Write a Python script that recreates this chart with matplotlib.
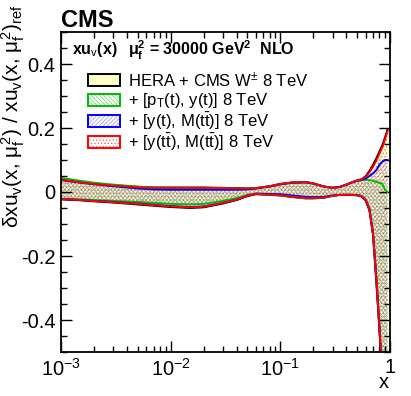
"""
Relative uncertainty of the xu_v PDF at mu_f^2 = 30000 GeV^2 (NLO) - CMS style band plot
"""

import matplotlib
matplotlib.use('Agg')
import matplotlib.pyplot as plt
from matplotlib.patches import Rectangle
from matplotlib.ticker import FixedLocator, NullFormatter

plt.rcParams['font.family'] = ['Liberation Sans', 'DejaVu Sans']
plt.rcParams['mathtext.fontset'] = 'custom'
plt.rcParams['mathtext.rm'] = 'Liberation Sans'
plt.rcParams['mathtext.it'] = 'Liberation Sans'
plt.rcParams['mathtext.bf'] = 'Liberation Sans:bold'
plt.rcParams['hatch.linewidth'] = 0.6

# x grid
x = [1e-3, 1.5e-3, 2e-3, 3e-3, 5e-3, 7e-3, 1e-2, 1.5e-2, 2e-2, 3e-2, 4e-2, 5e-2, 6e-2, 8e-2,
     0.1, 0.13, 0.17, 0.2, 0.25, 0.3, 0.35, 0.4, 0.45, 0.5, 0.55, 0.6, 0.65, 0.7, 0.75, 0.8,
     0.85, 0.9, 0.95]

# HERA + CMS W 8 TeV
hera_up = [0.039, 0.031, 0.026, 0.021, 0.016, 0.014, 0.014, 0.014, 0.014, 0.013, 0.012, 0.011,
           0.012, 0.018, 0.025, 0.030, 0.031, 0.027, 0.017, 0.013, 0.016, 0.023, 0.030, 0.036,
           0.040, 0.049, 0.066, 0.085, 0.105, 0.126, 0.146, 0.170, 0.195]
hera_lo = [-0.023, -0.026, -0.029, -0.033, -0.039, -0.043, -0.047, -0.050, -0.048, -0.036,
           -0.025, -0.013, -0.007, -0.009, -0.011, -0.016, -0.020, -0.020, -0.018, -0.012,
           -0.009, -0.009, -0.009, -0.010, -0.014, -0.027, -0.058, -0.135, -0.28, -0.43,
           -0.59, -0.76, -0.92]

# + [pT(t), y(t)] 8 TeV
ptyt_up = [0.044, 0.035, 0.029, 0.023, 0.017, 0.014, 0.013, 0.013, 0.013, 0.012, 0.011, 0.011,
           0.012, 0.018, 0.025, 0.030, 0.031, 0.027, 0.017, 0.013, 0.016, 0.023, 0.030, 0.035,
           0.038, 0.039, 0.037, 0.035, 0.032, 0.029, 0.026, 0.007, 0.0]
ptyt_lo = [-0.021, -0.023, -0.025, -0.028, -0.031, -0.034, -0.037, -0.039, -0.037, -0.028,
           -0.019, -0.009, -0.005, -0.008, -0.010, -0.015, -0.019, -0.019, -0.017, -0.012,
           -0.009, -0.009, -0.009, -0.010, -0.012, -0.023, -0.052, -0.125, -0.26, -0.41,
           -0.57, -0.74, -0.89]

# + [y(t), M(tt)] 8 TeV
ymtt_up = [0.037, 0.029, 0.024, 0.018, 0.011, 0.008, 0.007, 0.007, 0.007, 0.007, 0.007, 0.008,
           0.011, 0.017, 0.024, 0.029, 0.030, 0.026, 0.017, 0.013, 0.016, 0.023, 0.030, 0.035,
           0.037, 0.042, 0.050, 0.058, 0.068, 0.085, 0.095, 0.100, 0.100]
ymtt_lo = [-0.022, -0.025, -0.028, -0.031, -0.036, -0.040, -0.044, -0.047, -0.045, -0.034,
           -0.024, -0.012, -0.005, -0.006, -0.007, -0.011, -0.015, -0.016, -0.015, -0.011,
           -0.009, -0.009, -0.009, -0.010, -0.013, -0.025, -0.055, -0.13, -0.27, -0.42,
           -0.58, -0.75, -0.90]

# + [y(tt), M(tt)] 8 TeV
yttm_up = [0.038, 0.030, 0.025, 0.020, 0.015, 0.013, 0.013, 0.013, 0.013, 0.012, 0.011, 0.011,
           0.012, 0.018, 0.025, 0.030, 0.031, 0.027, 0.017, 0.013, 0.016, 0.023, 0.030, 0.036,
           0.039, 0.047, 0.062, 0.079, 0.098, 0.120, 0.140, 0.165, 0.190]
yttm_lo = [-0.022, -0.025, -0.028, -0.032, -0.037, -0.041, -0.045, -0.048, -0.046, -0.034,
           -0.024, -0.012, -0.006, -0.008, -0.010, -0.015, -0.019, -0.019, -0.017, -0.012,
           -0.009, -0.009, -0.009, -0.010, -0.013, -0.025, -0.055, -0.13, -0.27, -0.42,
           -0.58, -0.75, -0.90]

labels = [r'HERA + CMS W$^{\pm}$ 8 TeV',
          r'+ [p$_{\rm T}$(t), y(t)] 8 TeV',
          r'+ [y(t), M(t$\bar{\rm t}$)] 8 TeV',
          r'+ [y(t$\bar{\rm t}$), M(t$\bar{\rm t}$)] 8 TeV']

xticks = [1e-3, 1e-2, 1e-1, 1]
xtick_labels = [r'$10^{-3}$', r'$10^{-2}$', r'$10^{-1}$', '1']
yticks = [-0.4, -0.2, 0, 0.2, 0.4]
ytick_labels = ['-0.4', '-0.2', '0', '0.2', '0.4']

fig = plt.figure(figsize=(4.11, 3.96), dpi=100)
ax = fig.add_axes([61 / 411, 1 - 352 / 396, 329 / 411, 320 / 396])

# band styles: fill colour, hatch colour, hatch pattern, outline colour
fills = ['#ffffcc', 'none', 'none', 'none']
hatch_colors = [None, (0.25, 0.8, 0.25, 0.7), (0.5, 0.5, 0.95, 0.7), (1.0, 0.3, 0.3, 0.8)]
hatches = [None, '\\' * 8, '/' * 8, '.' * 5]
line_colors = ['black', '#00bb00', '#0000ff', '#ff0000']
bands = [(hera_up, hera_lo), (ptyt_up, ptyt_lo), (ymtt_up, ymtt_lo), (yttm_up, yttm_lo)]

for (up, lo), fc, hc, h in zip(bands, fills, hatch_colors, hatches):
    ax.fill_between(x, lo, up, facecolor=fc, edgecolor=hc if hc else 'none', hatch=h, linewidth=0)
for (up, lo), c in zip(bands, line_colors):
    ax.plot(x, up, color=c, lw=1.4)
    ax.plot(x, lo, color=c, lw=1.4)

ax.set_xscale('log')
ax.set_xlim(1e-3, 1)
ax.set_ylim(-0.5, 0.5)

ax.set_xticks(xticks)
ax.set_xticklabels(xtick_labels)
ax.xaxis.set_minor_locator(FixedLocator([m * 10.0 ** e for e in (-3, -2, -1) for m in range(2, 10)]))
ax.xaxis.set_minor_formatter(NullFormatter())
ax.set_yticks(yticks)
ax.set_yticklabels(ytick_labels)
ax.yaxis.set_minor_locator(FixedLocator([i * 0.05 for i in range(-10, 11)]))

ax.tick_params(which='both', direction='in', top=True, right=True, labelsize=14.5, width=1.0)
ax.tick_params(which='major', length=8, pad=4)
ax.tick_params(which='minor', length=4)
for sp in ax.spines.values():
    sp.set_linewidth(1.3)

# axis titles placed like the ROOT layout
fig.text(384 / 411, 1 - 383 / 396, 'x', fontsize=14.5, ha='center', va='center')
fig.text(13 / 411, 1 - 4 / 396,
         r'$\delta$xu$_{\rm v}$(x, $\mu_{\rm f}^{2}$) / xu$_{\rm v}$(x, $\mu_{\rm f}^{2}$)$_{\rm ref}$',
         fontsize=15, rotation=90, ha='center', va='top')

# header texts
fig.text(61 / 411, 1 - 27 / 396, 'CMS', fontsize=17, fontweight='bold', ha='left', va='baseline')
ax.text(0.033, 0.944, r'xu$_{\rm v}$(x)', transform=ax.transAxes, fontsize=11.5,
        fontweight='bold', va='center')
ax.text(0.204, 0.944, r'$\mathbf{\mu}_{\rm\mathbf{f}}^{\mathbf{2}}$ = 30000 GeV$^{\mathbf{2}}$  NLO',
        transform=ax.transAxes, fontsize=11.5, fontweight='bold', va='center')

# legend drawn by hand
rows_y = [0.85, 0.7875, 0.722, 0.656]
box_w, box_h = 0.097, 0.04
for yy, fc, hc, h, c, lab in zip(rows_y, fills, hatch_colors, hatches, line_colors, labels):
    if h is not None:
        ax.add_patch(Rectangle((0.082, yy - box_h / 2), box_w, box_h, transform=ax.transAxes,
                               facecolor='white', hatch=h, edgecolor=hc, linewidth=0))
    ax.add_patch(Rectangle((0.082, yy - box_h / 2), box_w, box_h, transform=ax.transAxes,
                           facecolor=fc, edgecolor=c, linewidth=1.4))
    ax.text(0.204, yy, lab, transform=ax.transAxes, fontsize=12, va='center')

plt.savefig('out.png', dpi=100, facecolor='white')
